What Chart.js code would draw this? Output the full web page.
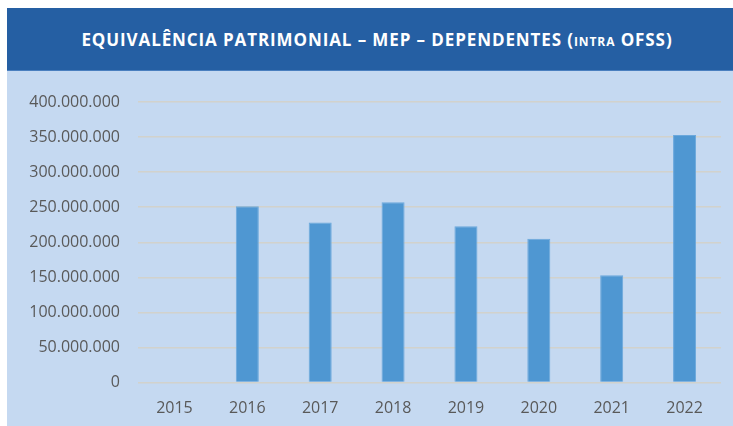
<!DOCTYPE html>
<html>
<head>
<meta charset="utf-8">
<script src="https://cdn.jsdelivr.net/npm/chart.js@4/dist/chart.umd.min.js"></script>
<style>
  html, body { margin: 0; padding: 0; background: #ffffff; width: 733px; height: 426px; overflow: hidden; }
  #panel { position: absolute; left: 7px; top: 8px; width: 726px; height: 418px; background: #C5D9F1; }
  #banner { position: absolute; left: 0; top: 0; width: 726px; height: 63px; background: #255FA3;
            border-bottom: 1px solid #4A7FBF; box-sizing: border-box;
            color: #ffffff; font-family: "Open Sans", sans-serif; font-weight: bold; font-size: 17px;
            display: flex; align-items: center; justify-content: center; letter-spacing: 0.9px; padding-left: 14px; }
  #banner .sc { font-variant: small-caps; text-transform: lowercase; }
  #wrap { position: absolute; left: 0; top: 64px; width: 726px; height: 354px; }
</style>
</head>
<body>
<div id="panel">
  <div id="banner"><span>EQUIVALÊNCIA PATRIMONIAL – MEP – DEPENDENTES (<span class="sc">intra</span> OFSS)</span></div>
  <div id="wrap"><canvas id="c" width="726" height="354"></canvas></div>
</div>
<script>
const categories = ["2015", "2016", "2017", "2018", "2019", "2020", "2021", "2022"];
const values = [0, 251500000, 228000000, 257000000, 222700000, 205000000, 153000000, 352800000];
const yTicks = [0, 50000000, 100000000, 150000000, 200000000, 250000000, 300000000, 350000000, 400000000];

function fmt(v) {
  return Math.round(v).toString().replace(/\B(?=(\d{3})+(?!\d))/g, '.');
}

const labelFont = { family: "'Open Sans', sans-serif", size: 16 };

new Chart(document.getElementById('c'), {
  type: 'bar',
  data: {
    labels: categories,
    datasets: [{
      data: values,
      backgroundColor: '#4F97D2',
      borderColor: '#6BA8DC',
      borderWidth: 1,
      categoryPercentage: 1,
      barPercentage: 0.316
    }]
  },
  options: {
    responsive: false,
    animation: false,
    layout: { padding: { top: 30, right: 12, left: 0, bottom: 0 } },
    plugins: { legend: { display: false }, tooltip: { enabled: false }, title: { display: false } },
    scales: {
      x: {
        grid: { display: false, drawTicks: false },
        border: { display: false },
        ticks: { color: '#595959', font: labelFont, padding: 16, maxRotation: 0 },
        afterFit: (s) => { s.height = 43.5; }
      },
      y: {
        min: yTicks[0],
        max: yTicks[yTicks.length - 1],
        afterBuildTicks: (s) => { s.ticks = yTicks.map(v => ({ value: v })); },
        grid: { color: '#D2D2CC', lineWidth: 1.5, drawTicks: false },
        border: { display: false },
        ticks: { color: '#595959', font: labelFont, padding: 18, callback: (v) => fmt(v) },
        afterFit: (s) => { s.width = 131; }
      }
    }
  }
});
</script>
</body>
</html>
